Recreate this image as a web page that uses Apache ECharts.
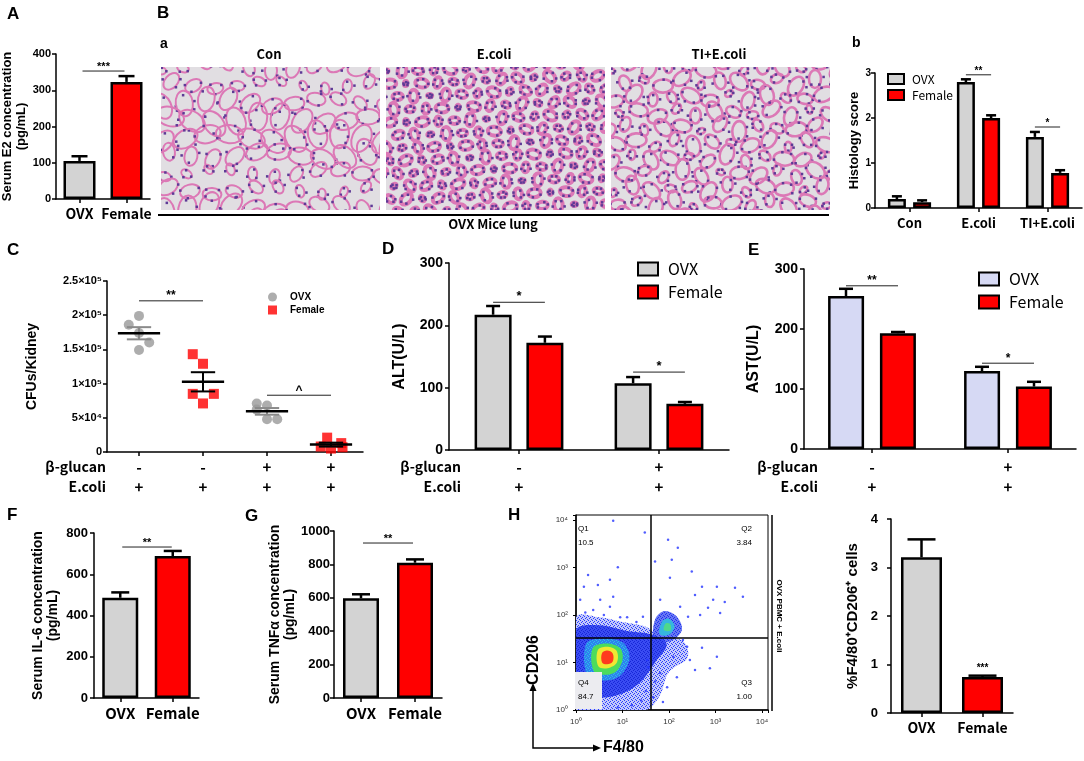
<!DOCTYPE html>
<html>
<head>
<meta charset="utf-8">
<title>OVX vs Female</title>
<script src="https://cdn.jsdelivr.net/npm/echarts@6/dist/echarts.min.js"></script>
<style>
  html, body { margin: 0; padding: 0; background: #fff; }
  #main { width: 1084px; height: 761px; }
</style>
</head>
<body>
<div id="main"></div>
<script>
// ---------- values ----------
// A  serum E2
var e2Cats = ['OVX', 'Female'];
var e2Mean = [105, 323];
var e2Sem = [13, 16];

// B-b  histology score
var histoCats = ['Con', 'E.coli', 'TI+E.coli'];
var histoOvx = [0.2, 2.8, 1.58];
var histoOvxSem = [0.06, 0.06, 0.11];
var histoFem = [0.13, 2.0, 0.78];
var histoFemSem = [0.04, 0.06, 0.06];

// C  CFUs/Kidney (x = group number + jitter)
var cfuGlucan = ['-', '-', '+', '+'];
var cfuEcoli = ['+', '+', '+', '+'];
var cfuTicks = ['0', '5×10⁴', '1×10⁵', '1.5×10⁵', '2×10⁵', '2.5×10⁵'];
var cfuOvx = [[1, 199000], [0.84, 186000], [1, 174000], [1.16, 160000], [1, 149000],
  [2.84, 71000], [3, 68000], [2.84, 62000], [3, 48000], [3.16, 48000]];
var cfuFem = [[1.84, 143000], [2, 129000], [1.84, 85000], [2.17, 85000], [2, 71000],
  [3.94, 21000], [3.84, 8000], [4.16, 13000], [4, 5000], [4.18, 7000]];

// D / E  liver enzymes
var rowGlucan = ['-', '+'];
var rowEcoli = ['+', '+'];
var altOvx = [217, 107], altOvxSem = [14, 10];
var altFem = [172, 74], altFemSem = [10, 3];
var astOvx = [255, 130], astOvxSem = [12, 7];
var astFem = [193, 104], astFemSem = [2, 8];

// F / G  cytokines
var il6Mean = [486, 688], il6Sem = [26, 25];
var tnfMean = [597, 810], tnfSem = [24, 20];

// H  flow plot, log10 units
var flowGate = [1.61, 1.52];
var flowQuads = ['Q1', '10.5', 'Q2', '3.84', 'Q3', '1.00', 'Q4', '84.7'];
var flowBlueOuter = [[0, 0], [0, 1.95], [0.5, 1.95], [1.0, 1.85], [1.5, 1.75], [1.8, 1.55], [2.3, 1.45],
  [2.4, 1.1], [2.0, 0.8], [1.8, 0.3], [1.5, 0]];
var flowBlueInner = [[0.02, 0.45], [0, 1.68], [0.5, 1.78], [1.1, 1.66], [1.65, 1.58], [1.95, 1.38],
  [1.7, 1.0], [1.35, 0.55], [0.85, 0.3], [0.3, 0.28]];
var flowCyan = [[0.25, 0.7], [0.22, 1.4], [0.6, 1.5], [1.0, 1.42], [1.15, 1.1], [0.95, 0.72], [0.6, 0.62]];
var flowGreen = [[0.38, 0.82], [0.36, 1.3], [0.65, 1.4], [0.95, 1.3], [1.0, 1.05], [0.85, 0.8], [0.6, 0.74]];
var flowYellow = [[0.48, 0.92], [0.47, 1.26], [0.66, 1.33], [0.87, 1.25], [0.88, 1.0], [0.68, 0.88]];
var flowRed = [[0.56, 1.0], [0.56, 1.2], [0.67, 1.25], [0.79, 1.19], [0.79, 1.02], [0.67, 0.96]];
var flowClusterBlue = [[1.68, 1.5], [1.7, 1.9], [1.9, 2.08], [2.15, 1.98], [2.28, 1.7], [2.1, 1.48], [1.88, 1.42]];
var flowClusterCyan = [[1.8, 1.6], [1.85, 1.86], [2.0, 1.92], [2.12, 1.76], [2.0, 1.58]];
var flowClusterGreen = [[1.89, 1.68], [1.93, 1.82], [2.03, 1.8], [2.03, 1.67]];
var flowDots = [[0.8, 3.98], [0.73, 2.74], [0.17, 2.59], [0.47, 2.63], [0.52, 2.32], [0.73, 2.17], [0.8, 2.38],
  [0.37, 2.1], [0.9, 3.0], [1.48, 3.73], [1.98, 3.58], [2.19, 3.41], [1.7, 3.12], [2.06, 3.16], [2.49, 2.91],
  [2.02, 2.78], [2.71, 2.59], [3.03, 2.59], [3.42, 2.57], [3.59, 2.38], [2.56, 2.42], [2.95, 2.32], [3.2, 2.27],
  [2.84, 2.15], [2.41, 1.96], [2.67, 2.0], [3.1, 2.04], [1.81, 2.32], [2.24, 2.17], [1.44, 1.96], [2.3, 1.47],
  [2.71, 1.31], [3.03, 1.12], [2.45, 1.05], [2.88, 0.88], [2.17, 0.69], [1.96, 0.48], [1.87, 0.17], [1.66, 0.27],
  [2.56, 0.84], [1.81, 0.78], [2.09, 1.12], [1.53, 1.05], [2.39, 1.33], [0.09, 2.32], [0.26, 2.84], [1.4, 0.2],
  [1.2, 0.1], [0.9, 0.05], [1.5, 0.4], [1.3, 1.85], [1.1, 1.95], [0.2, 2.05], [0.6, 2.0], [0.95, 1.95],
  [1.7, 0.6], [1.55, 0.9]];
var flowTicks = ['10⁰', '10¹', '10²', '10³', '10⁴'];

var cd206Cats = ['OVX', 'Female'];
var cd206Mean = [3.21, 0.74], cd206Sem = [0.37, 0.03];

// ---------- styles ----------
var FONT = '"Liberation Sans", Arial, sans-serif';
var KFONT = '"Noto Sans CJK KR", "Noto Sans", sans-serif';
var GRAY = '#d3d3d3', RED = '#ff0000', LAV = '#d6d9f4';

var grids = [], xAxes = [], yAxes = [], series = [], legends = [], graphics = [];

function addGrid(l, t, w, h, extra) {
  var g = { left: l, top: t, width: w, height: h, containLabel: false, outerBoundsMode: 'none' };
  if (extra) for (var k in extra) g[k] = extra[k];
  grids.push(g);
  return grids.length - 1;
}

function plain(v) { return '' + v; }

function valueY(gi, max, step, fs, margin, name, gap, nameFs, fmt) {
  yAxes.push({
    gridIndex: gi, type: 'value', min: 0, max: max, interval: step,
    axisLine: { show: true, lineStyle: { color: '#000', width: 1.5 } },
    axisTick: { show: true, length: 4, lineStyle: { color: '#000', width: 1.5 } },
    splitLine: { show: false },
    axisLabel: { fontFamily: FONT, fontWeight: 'bold', fontSize: fs, color: '#000', margin: margin, formatter: fmt || plain },
    name: name, nameLocation: 'middle', nameGap: gap, nameRotate: 90,
    nameTextStyle: { fontFamily: FONT, fontWeight: 'bold', fontSize: nameFs, color: '#000', lineHeight: nameFs + 1 }
  });
  return yAxes.length - 1;
}

function catX(gi, cats, fs, margin, fmt) {
  xAxes.push({
    gridIndex: gi, type: 'category', data: cats, boundaryGap: true,
    axisLine: { show: true, lineStyle: { color: '#000', width: 1.5 } },
    axisTick: { show: true, alignWithLabel: true, length: 4, lineStyle: { color: '#000', width: 1.5 } },
    splitLine: { show: false },
    axisLabel: { fontFamily: KFONT, fontWeight: 'bold', fontSize: fs, color: '#000', margin: margin,
      lineHeight: 20, interval: 0, formatter: fmt }
  });
  return xAxes.length - 1;
}

function barSeries(name, xi, yi, vals, color, w, gap) {
  series.push({
    type: 'bar', name: name, xAxisIndex: xi, yAxisIndex: yi, barWidth: w, barGap: gap, silent: true, z: 3,
    itemStyle: { color: color, borderColor: '#000', borderWidth: 2.5 },
    data: vals
  });
}

function errSeries(xi, yi, means, sems, off, cap) {
  series.push({
    type: 'custom', xAxisIndex: xi, yAxisIndex: yi, silent: true, z: 4,
    data: means.map(function (m, i) { return [i, m, sems[i]]; }),
    renderItem: function (params, api) {
      var b = api.coord([api.value(0), api.value(1)]);
      var t = api.coord([api.value(0), api.value(1) + api.value(2)]);
      var x = b[0] + off;
      var st = { stroke: '#000', lineWidth: 2.5 };
      return { type: 'group', children: [
        { type: 'line', shape: { x1: x, y1: b[1], x2: x, y2: t[1] }, style: st },
        { type: 'line', shape: { x1: x - cap, y1: t[1], x2: x + cap, y2: t[1] }, style: st }
      ] };
    }
  });
}

// significance line from category a (+offA px) to category b (+offB px) at value y
function sigSeries(xi, yi, items, texts, offA, offB, fs) {
  series.push({
    type: 'custom', xAxisIndex: xi, yAxisIndex: yi, silent: true, z: 5,
    data: items,
    renderItem: function (params, api) {
      var a = api.coord([api.value(0), api.value(2)]);
      var b = api.coord([api.value(1), api.value(2)]);
      var x1 = a[0] + offA, x2 = b[0] + offB;
      return { type: 'group', children: [
        { type: 'line', shape: { x1: x1, y1: a[1], x2: x2, y2: a[1] }, style: { stroke: '#222', lineWidth: 1 } },
        { type: 'text', x: (x1 + x2) / 2, y: a[1] + 1,
          style: { text: texts[params.dataIndex], font: 'bold ' + fs + 'px ' + FONT, fill: '#000',
            align: 'center', verticalAlign: 'bottom' } }
      ] };
    }
  });
}

function groupStats(pts) {
  var g = {};
  pts.forEach(function (p) { var k = Math.round(p[0]); (g[k] = g[k] || []).push(p[1]); });
  return Object.keys(g).map(function (k) {
    var v = g[k], n = v.length;
    var m = v.reduce(function (a, b) { return a + b; }, 0) / n;
    var sd = Math.sqrt(v.reduce(function (a, b) { return a + (b - m) * (b - m); }, 0) / (n - 1));
    return [+k, m, sd / Math.sqrt(n)];
  });
}

function meanSemSeries(xi, yi, pts, semColor) {
  series.push({
    type: 'custom', xAxisIndex: xi, yAxisIndex: yi, silent: true, z: 6,
    data: groupStats(pts),
    renderItem: function (params, api) {
      var x = api.value(0), m = api.value(1), s = api.value(2);
      var c = api.coord([x, m]), hi = api.coord([x, m + s]), lo = api.coord([x, m - s]);
      var w = api.size([0.33, 0])[0], w2 = api.size([0.19, 0])[0];
      var ss = { stroke: semColor, lineWidth: 2 };
      return { type: 'group', children: [
        { type: 'line', shape: { x1: c[0], y1: hi[1], x2: c[0], y2: lo[1] }, style: ss },
        { type: 'line', shape: { x1: c[0] - w2, y1: hi[1], x2: c[0] + w2, y2: hi[1] }, style: ss },
        { type: 'line', shape: { x1: c[0] - w2, y1: lo[1], x2: c[0] + w2, y2: lo[1] }, style: ss },
        { type: 'line', shape: { x1: c[0] - w, y1: c[1], x2: c[0] + w, y2: c[1] }, style: { stroke: '#000', lineWidth: 2.5 } }
      ] };
    }
  });
}

function stripTag(n) { return n.split('#')[0]; }

function txt(x, y, s, font, align, vAlign, rot) {
  graphics.push({ type: 'text', x: x, y: y, rotation: rot || 0, z: 30,
    style: { text: s, font: font, fill: '#000', align: align || 'left', verticalAlign: vAlign || 'middle' } });
}

function twoRow(top, bottom) {
  return function (v, i) { return top[i] + '\n' + bottom[i]; };
}

// ---------- A ----------
var gA = addGrid(56, 54, 94, 145);
var xA = catX(gA, e2Cats, 14, 5);
var yA = valueY(gA, 400, 100, 11, 5, 'Serum E2 concentration\n(pg/mL)', 24, 13);
barSeries('E2', xA, yA, e2Mean.map(function (v, i) {
  return { value: v, itemStyle: { color: i ? RED : GRAY } };
}), GRAY, 32);
errSeries(xA, yA, e2Mean, e2Sem, 0, 8);
sigSeries(xA, yA, [[0, 1, 353]], ['***'], 3, -2, 11);

// ---------- B-b ----------
var gb = addGrid(875, 73, 207, 135);
var xb = catX(gb, histoCats, 13, 5);
var yb = valueY(gb, 3, 1, 10, 4, 'Histology score', 13, 13);
barSeries('OVX#b', xb, yb, histoOvx, GRAY, 18, '40%');
barSeries('Female#b', xb, yb, histoFem, RED, 18, '40%');
errSeries(xb, yb, histoOvx, histoOvxSem, -12.6, 5);
errSeries(xb, yb, histoFem, histoFemSem, 12.6, 5);
sigSeries(xb, yb, [[1, 1, 2.96], [2, 2, 1.8]], ['**', '*'], -12.6, 12.6, 10);
legends.push({ left: 887, top: 73, orient: 'vertical', padding: 0, itemWidth: 16, itemHeight: 10, itemGap: 4,
  icon: 'rect', selectedMode: false, data: ['OVX#b', 'Female#b'], formatter: stripTag,
  textStyle: { fontFamily: KFONT, fontSize: 12, color: '#000', lineHeight: 12, padding: [0, 0, 0, 3] } });

// ---------- C ----------
var gC = addGrid(107, 281, 256, 171);
var xC = catX(gC, ['0', '1', '2', '3'], 15, 5, twoRow(cfuGlucan, cfuEcoli));
xAxes.push({ gridIndex: gC, type: 'value', min: 0.5, max: 4.5, show: false });
var xCv = xAxes.length - 1;
var yC = valueY(gC, 250000, 50000, 11, 5, 'CFUs/Kidney', 67, 14, function (v) {
  return cfuTicks[Math.round(v / 50000)];
});
series.push({ type: 'scatter', name: 'OVX#C', xAxisIndex: xCv, yAxisIndex: yC, symbol: 'circle', symbolSize: 10,
  itemStyle: { color: '#999999' }, data: cfuOvx, silent: true, z: 5 });
series.push({ type: 'scatter', name: 'Female#C', xAxisIndex: xCv, yAxisIndex: yC, symbol: 'rect', symbolSize: 10,
  itemStyle: { color: RED }, data: cfuFem, silent: true, z: 5 });
meanSemSeries(xCv, yC, cfuOvx, '#8a8a8a');
meanSemSeries(xCv, yC, cfuFem, '#000');
sigSeries(xCv, yC, [[1, 2, 221000], [3, 4, 83000]], ['**', '^'], 0, 0, 12);
legends.push({ left: 268, top: 292, orient: 'vertical', padding: 0, itemWidth: 9, itemHeight: 9, itemGap: 3,
  selectedMode: false, data: [{ name: 'OVX#C', icon: 'circle' }, { name: 'Female#C', icon: 'rect' }],
  formatter: stripTag,
  textStyle: { fontFamily: FONT, fontWeight: 'bold', fontSize: 10, color: '#000', lineHeight: 10, padding: [0, 0, 0, 8] } });

// ---------- D ----------
var gD = addGrid(449, 263, 280, 187);
var xD = catX(gD, ['0', '1'], 15, 7, twoRow(rowGlucan, rowEcoli));
var yD = valueY(gD, 300, 100, 14, 6, 'ALT(U/L)', 41, 16);
barSeries('OVX#D', xD, yD, altOvx, GRAY, 37, '40%');
barSeries('Female#D', xD, yD, altFem, RED, 37, '40%');
errSeries(xD, yD, altOvx, altOvxSem, -25.9, 7);
errSeries(xD, yD, altFem, altFemSem, 25.9, 7);
sigSeries(xD, yD, [[0, 0, 237], [1, 1, 125]], ['*', '*'], -25.9, 25.9, 13);
legends.push({ left: 637, top: 261, orient: 'vertical', padding: 0, itemWidth: 20, itemHeight: 13, itemGap: 7,
  icon: 'rect', selectedMode: false, data: ['OVX#D', 'Female#D'], formatter: stripTag,
  textStyle: { fontFamily: KFONT, fontSize: 16, color: '#000', lineHeight: 14, padding: [0, 0, 0, 5] } });

// ---------- E ----------
var gE = addGrid(804, 269, 272, 180);
var xE = catX(gE, ['0', '1'], 15, 8, twoRow(rowGlucan, rowEcoli));
var yE = valueY(gE, 300, 100, 14, 6, 'AST(U/L)', 42, 16);
barSeries('OVX#E', xE, yE, astOvx, LAV, 36, '44%');
barSeries('Female#E', xE, yE, astFem, RED, 36, '44%');
errSeries(xE, yE, astOvx, astOvxSem, -26, 7);
errSeries(xE, yE, astFem, astFemSem, 26, 7);
sigSeries(xE, yE, [[0, 0, 272], [1, 1, 143]], ['**', '*'], -26, 26, 12);
legends.push({ left: 978, top: 271, orient: 'vertical', padding: 0, itemWidth: 20, itemHeight: 13, itemGap: 7,
  icon: 'rect', selectedMode: false, data: ['OVX#E', 'Female#E'], formatter: stripTag,
  textStyle: { fontFamily: KFONT, fontSize: 16, color: '#000', lineHeight: 14, padding: [0, 0, 0, 5] } });

// ---------- F ----------
var gF = addGrid(94, 533, 105, 165);
var xF = catX(gF, e2Cats, 15, 5);
var yF = valueY(gF, 800, 200, 13, 6, 'Serum IL-6 concentration\n(pg/mL)', 33, 14);
barSeries('IL6', xF, yF, il6Mean.map(function (v, i) {
  return { value: v, itemStyle: { color: i ? RED : GRAY } };
}), GRAY, 36);
errSeries(xF, yF, il6Mean, il6Sem, 0, 9);
sigSeries(xF, yF, [[0, 1, 732]], ['**'], 2, -1, 11);

// ---------- G ----------
var gG = addGrid(334, 531, 108, 167);
var xG = catX(gG, e2Cats, 15, 5);
var yG = valueY(gG, 1000, 200, 13, 4, 'Serum TNFα concentration\n(pg/mL)', 31, 14);
barSeries('TNF', xG, yG, tnfMean.map(function (v, i) {
  return { value: v, itemStyle: { color: i ? RED : GRAY } };
}), GRAY, 36);
errSeries(xG, yG, tnfMean, tnfSem, 0, 9);
sigSeries(xG, yG, [[0, 1, 928]], ['**'], 2, -2, 11);

// ---------- H flow plot ----------
var gFlow = addGrid(576, 515, 192, 195, { show: true, borderColor: '#000', borderWidth: 1, backgroundColor: '#fff' });
function flowAxis(max) {
  return {
    gridIndex: gFlow, type: 'value', min: 0, max: max, interval: 1,
    axisLine: { show: true, lineStyle: { color: '#000', width: 1.5 } },
    axisTick: { show: true, length: 3, lineStyle: { color: '#000' } },
    splitLine: { show: false },
    axisLabel: { fontFamily: FONT, fontSize: 8, color: '#333', margin: 8,
      formatter: function (v) { return Math.abs(v - Math.round(v)) < 1e-6 ? flowTicks[Math.round(v)] : ''; } }
  };
}
xAxes.push(flowAxis(4.13)); var xFlow = xAxes.length - 1;
yAxes.push(flowAxis(4.1)); var yFlow = yAxes.length - 1;

function speckle(base, dot) {
  var cv = document.createElement('canvas');
  cv.width = 4; cv.height = 4;
  var g = cv.getContext('2d');
  g.fillStyle = base; g.fillRect(0, 0, 4, 4);
  g.fillStyle = dot;
  g.fillRect(0, 0, 1, 1); g.fillRect(2, 1, 1, 1); g.fillRect(1, 2, 1, 1); g.fillRect(3, 3, 1, 1);
  return { image: cv, repeat: 'repeat' };
}

function polySeries(pts, fill, z) {
  series.push({
    type: 'custom', xAxisIndex: xFlow, yAxisIndex: yFlow, silent: true, clip: true, z: z,
    data: pts,
    renderItem: function (params, api) {
      if (params.dataIndex !== 0) return null;
      var p = pts.map(function (d) { return api.coord(d); });
      return { type: 'polygon', shape: { points: p, smooth: 0.35 }, style: { fill: fill } };
    }
  });
}
polySeries(flowBlueOuter, speckle('#c4cafa', '#2a3cff'), 2);
polySeries(flowClusterBlue, speckle('#6877f2', '#1f30f0'), 2);
polySeries(flowBlueInner, speckle('#3a4cf2', '#1626d8'), 3);
polySeries(flowCyan, speckle('#2f7ff0', '#28c4e6'), 4);
polySeries(flowClusterCyan, '#36b6e0', 4);
polySeries(flowGreen, '#4cdc5c', 5);
polySeries(flowClusterGreen, '#4fd98a', 5);
polySeries(flowYellow, '#eee832', 6);
polySeries(flowRed, '#ff3a1e', 7);
series.push({
  type: 'scatter', xAxisIndex: xFlow, yAxisIndex: yFlow, symbolSize: 2.5, silent: true, z: 8,
  itemStyle: { color: '#2435ff' }, data: flowDots,
  markLine: { silent: true, symbol: 'none', label: { show: false },
    lineStyle: { color: '#000', width: 1.5, type: 'solid' },
    data: [{ xAxis: flowGate[0] }, { yAxis: flowGate[1] }] }
});

// ---------- H bar ----------
var gH = addGrid(891, 519, 122, 194);
var xH = catX(gH, cd206Cats, 14, 5);
var yH = valueY(gH, 4, 1, 13, 13, '%F4/80⁺CD206⁺ cells', 30, 15);
barSeries('CD206', xH, yH, cd206Mean.map(function (v, i) {
  return i ? { value: v, itemStyle: { color: RED },
    label: { show: true, position: 'top', distance: 4, formatter: '***', fontSize: 10, fontWeight: 'bold', color: '#000' } }
    : { value: v, itemStyle: { color: GRAY } };
}), GRAY, 41);
errSeries(xH, yH, cd206Mean, cd206Sem, 0, 14);

// ---------- lung section textures (B-a) ----------
function tissueCanvas(w, h, cell, rad, wall, nuc) {
  var cv = document.createElement('canvas');
  cv.width = w; cv.height = h;
  var g = cv.getContext('2d');
  g.fillStyle = '#e1dee2';
  g.fillRect(0, 0, w, h);
  var row = 0;
  for (var y = 0; y < h + cell; y += cell * 0.8, row++) {
    for (var x = (row % 2) * cell / 2; x < w + cell; x += cell) {
      var r = rad * (0.45 + 0.8 * Math.abs(Math.sin(x * 0.71 + y * 1.37)));
      var cx = x + 5 * Math.sin(y * 0.9), cy = y + 4 * Math.cos(x * 0.8);
      g.strokeStyle = '#dc78b6';
      g.lineWidth = wall;
      g.beginPath();
      g.ellipse(cx, cy, r * 1.2, r * 0.8, (x + y) * 0.3, 0, Math.PI * 2);
      g.stroke();
      g.fillStyle = '#5e3a96';
      for (var k = 0; k < nuc; k++) {
        var a = k * 2.4 + x * 0.1;
        g.fillRect(cx + r * 1.2 * Math.cos(a) - 1, cy + r * 0.8 * Math.sin(a) - 1, 2.5, 2.5);
      }
    }
  }
  return cv;
}
var lungTitles = ['Con', 'E.coli', 'TI+E.coli'];
var lungLook = [[22, 9.5, 2, 3], [16, 4.5, 4, 5], [19, 7, 2.6, 4]];
lungTitles.forEach(function (t, i) {
  var x0 = 161 + i * 225;
  var lk = lungLook[i];
  graphics.push({ type: 'image', x: x0, y: 67, z: 1,
    style: { image: tissueCanvas(219, 143, lk[0], lk[1], lk[2], lk[3]), width: 219, height: 143 } });
  txt(x0 + 108, 54, t, 'bold 13px ' + KFONT, 'center');
});
graphics.push({ type: 'line', z: 30, shape: { x1: 158, y1: 215, x2: 829, y2: 215 }, style: { stroke: '#000', lineWidth: 2 } });
txt(493, 224, 'OVX Mice lung', 'bold 13px ' + KFONT, 'center');

// ---------- panel letters, row names ----------
var PL = 'bold 17px ' + FONT;
txt(7, 14, 'A', PL); txt(157, 13, 'B', PL); txt(160, 44, 'a', 'bold 14px ' + FONT);
txt(852, 43, 'b', 'bold 14px ' + FONT);
txt(7, 250, 'C', PL); txt(382, 249, 'D', PL); txt(748, 250, 'E', PL);
txt(7, 515, 'F', PL); txt(245, 516, 'G', PL); txt(508, 515, 'H', PL);

var RF = 'bold 14px ' + KFONT;
[106, 461, 818].forEach(function (rx) {
  txt(rx, 467, 'β-glucan', RF, 'right');
  txt(rx, 487, 'E.coli', RF, 'right');
});

// ---------- flow annotations ----------
graphics.push({ type: 'rect', z: 25, shape: { x: 575, y: 672, width: 27, height: 37 }, style: { fill: '#ececf0' } });
var QF = '8px ' + FONT;
txt(578, 529, flowQuads[0], QF); txt(578, 543, flowQuads[1], QF);
txt(752, 529, flowQuads[2], QF, 'right'); txt(752, 543, flowQuads[3], QF, 'right');
txt(752, 683, flowQuads[4], QF, 'right'); txt(752, 697, flowQuads[5], QF, 'right');
txt(578, 683, flowQuads[6], QF); txt(578, 697, flowQuads[7], QF);
graphics.push({ type: 'line', z: 30, shape: { x1: 772, y1: 515, x2: 772, y2: 711 }, style: { stroke: '#000', lineWidth: 1.5 } });
txt(779, 616, 'OVX PBMC + E.coli', 'bold 8px ' + FONT, 'center', 'middle', -Math.PI / 2);
graphics.push({ type: 'polyline', z: 30, shape: { points: [[533, 689], [533, 748], [595, 748]] },
  style: { stroke: '#000', lineWidth: 1.5, fill: null } });
graphics.push({ type: 'polygon', z: 30, shape: { points: [[533, 683], [529.5, 691], [536.5, 691]] }, style: { fill: '#000' } });
graphics.push({ type: 'polygon', z: 30, shape: { points: [[601, 748], [593, 744.5], [593, 751.5]] }, style: { fill: '#000' } });
txt(534, 660, 'CD206', 'bold 16px ' + FONT, 'center', 'middle', Math.PI / 2);
txt(603, 748, 'F4/80', 'bold 16px ' + FONT, 'left', 'middle');

// ---------- chart ----------
var chart = echarts.init(document.getElementById('main'), null, { renderer: 'canvas' });
chart.setOption({
  animation: false,
  backgroundColor: '#fff',
  grid: grids,
  xAxis: xAxes,
  yAxis: yAxes,
  legend: legends,
  series: series,
  graphic: { elements: graphics }
});
</script>
</body>
</html>
